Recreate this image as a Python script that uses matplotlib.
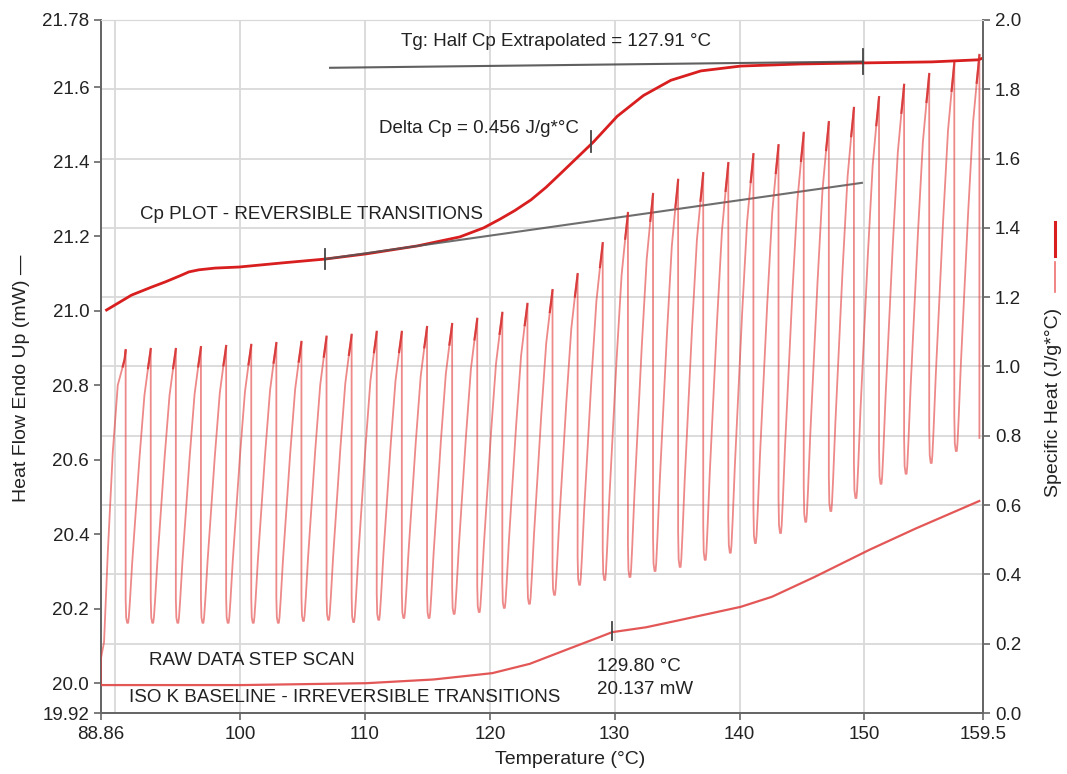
import matplotlib
matplotlib.use("Agg")
import matplotlib.pyplot as plt
from matplotlib.lines import Line2D

plt.rcParams["font.family"] = ["Liberation Sans", "DejaVu Sans"]
NARROW = ["Liberation Sans Narrow", "Liberation Sans", "DejaVu Sans"]

# ---- step scan raw data (left axis, mW) ----
step_peak_temp = [90.83, 92.84, 94.85, 96.86, 98.88, 100.89, 102.90, 104.91, 106.92,
                  108.93, 110.94, 112.95, 114.97, 116.98, 118.99, 121.00, 123.01, 125.02,
                  127.03, 129.04, 131.06, 133.07, 135.08, 137.09, 139.10, 141.11, 143.12,
                  145.14, 147.15, 149.16, 151.17, 153.18, 155.19, 157.20, 159.21]
step_peak_mw = [20.894, 20.897, 20.897, 20.902, 20.905, 20.908, 20.913, 20.916, 20.930,
                20.935, 20.943, 20.943, 20.956, 20.964, 20.978, 20.994, 21.018, 21.055,
                21.098, 21.181, 21.262, 21.313, 21.351, 21.369, 21.396, 21.420, 21.444,
                21.477, 21.506, 21.544, 21.573, 21.606, 21.635, 21.665, 21.686]
step_min_mw = [20.162, 20.162, 20.162, 20.162, 20.162, 20.162, 20.162, 20.167, 20.170,
               20.164, 20.170, 20.175, 20.175, 20.186, 20.191, 20.202, 20.213, 20.237,
               20.264, 20.277, 20.285, 20.301, 20.312, 20.331, 20.350, 20.376, 20.403,
               20.433, 20.462, 20.497, 20.535, 20.562, 20.591, 20.623, 20.658]
# start of the scan before the first step
start_temp = [88.86, 88.86, 89.1, 89.4, 89.8, 90.2, 90.6, 90.75, 90.83]
start_mw = [19.995, 20.068, 20.11, 20.35, 20.62, 20.80, 20.85, 20.87, 20.894]
# one step: drop after a peak, then the rise to the next peak
drop_dt = [0.0, 0.0, 0.04, 0.12, 0.20]
drop_h = [1.0, 0.09, 0.02, 0.0, 0.0]
rise_t = [0.0, 0.03, 0.08, 0.18, 0.33, 0.50, 0.72, 0.88, 0.96, 1.0]
rise_h = [0.0, 0.02, 0.08, 0.22, 0.40, 0.60, 0.83, 0.93, 0.975, 1.0]

# ---- iso K baseline (left axis, mW) ----
base_temp = [88.86, 100.2, 110.1, 115.5, 120.2, 123.2, 126.3, 128.8, 129.8, 132.5,
             135.3, 140.1, 142.6, 146.0, 150.4, 154.1, 159.2]
base_mw = [19.995, 19.995, 20.000, 20.010, 20.027, 20.052, 20.092, 20.124, 20.137, 20.150,
           20.170, 20.205, 20.232, 20.285, 20.358, 20.415, 20.489]

# ---- reversible Cp (right axis, J/g*C) ----
cp_temp = [89.3, 91.3, 92.9, 94.0, 95.2, 95.9, 96.7, 98.0, 99.9, 103.4, 106.8, 110.1,
           114.2, 117.6, 119.5, 120.8, 122.0, 123.3, 124.5, 125.7, 127.0, 128.3, 130.2,
           132.3, 134.5, 136.9, 140.1, 144.9, 149.8, 155.4, 159.1, 159.5]
cp_val = [1.163, 1.206, 1.229, 1.244, 1.262, 1.273, 1.279, 1.284, 1.287, 1.299, 1.310,
          1.325, 1.348, 1.374, 1.400, 1.425, 1.450, 1.481, 1.517, 1.558, 1.603, 1.648,
          1.722, 1.782, 1.826, 1.853, 1.867, 1.873, 1.876, 1.879, 1.885, 1.89]

# Tg construction lines
onset_line_temp = [106.8, 149.8]
onset_line_cp = [1.310, 1.530]
top_line_temp = [107.2, 149.9]
top_line_cp = [1.862, 1.880]
delta_tick = (128.1, 1.65)

x_ticks = [88.86, 100, 110, 120, 130, 140, 150, 159.5]
x_labels = ["88.86", "100", "110", "120", "130", "140", "150", "159.5"]
x_grid = [90, 100, 110, 120, 130, 140, 150]
left_ticks = [19.92, 20.0, 20.2, 20.4, 20.6, 20.8, 21.0, 21.2, 21.4, 21.6, 21.78]
left_labels = ["19.92", "20.0", "20.2", "20.4", "20.6", "20.8", "21.0", "21.2", "21.4",
               "21.6", "21.78"]
right_ticks = [0.0, 0.2, 0.4, 0.6, 0.8, 1.0, 1.2, 1.4, 1.6, 1.8, 2.0]

# build the raw trace from the per-step readings
raw_t = list(start_temp[:-1])
raw_y = list(start_mw[:-1])
tips = [(start_temp[-3:], start_mw[-3:])]
for k, (tp, yp) in enumerate(zip(step_peak_temp, step_peak_mw)):
    ymin = step_min_mw[k]
    if k > 0:
        t0 = step_peak_temp[k - 1] + drop_dt[-1]
        y0 = step_min_mw[k - 1]
        seg_t = [t0 + f * (tp - t0) for f in rise_t]
        seg_y = [y0 + f * (yp - y0) for f in rise_h]
        raw_t += seg_t
        raw_y += seg_y
        tips.append((seg_t[-3:], seg_y[-3:]))
    else:
        raw_t.append(tp)
        raw_y.append(yp)
    if k == len(step_peak_temp) - 1:
        raw_t.append(tp)
        raw_y.append(ymin)
    else:
        raw_t += [tp + d for d in drop_dt]
        raw_y += [ymin + f * (yp - ymin) for f in drop_h]

fig = plt.figure(figsize=(10.67, 7.74), dpi=100)
ax = fig.add_axes([0.0947, 0.0788, 0.8266, 0.8954])
ax2 = ax.twinx()
ax2.set_zorder(ax.get_zorder() - 1)
ax.patch.set_visible(False)
ax2.patch.set_facecolor("white")

ax.set_xlim(88.86, 159.5)
ax.set_ylim(19.92, 21.78)
ax2.set_ylim(0, 2.0)

grid_c = "#d9d9d9"
for v in right_ticks[1:]:
    ax2.axhline(v, color=grid_c, lw=1.3, zorder=0)
for g in x_grid:
    ax2.axvline(g, color=grid_c, lw=1.3, zorder=0)

ax.plot(raw_t, raw_y, color="#e23a3a", lw=1.3, alpha=0.6, zorder=3)
for tt, ty in tips:
    ax.plot(tt, ty, color="#d42a2a", lw=1.6, alpha=0.8, zorder=3)
ax.plot(base_temp, base_mw, color="#e04545", lw=1.6, alpha=0.9, zorder=3)

ax2.plot(cp_temp, cp_val, color="#d81e1e", lw=2.0, zorder=3)
ax2.plot(onset_line_temp, onset_line_cp, color="#555555", lw=1.5, alpha=0.85, zorder=4)
ax2.plot(top_line_temp, top_line_cp, color="#444444", lw=1.5, alpha=0.85, zorder=4)
ax2.plot([onset_line_temp[0]] * 2, [onset_line_cp[0] - 0.03, onset_line_cp[0] + 0.03],
         color="#444444", lw=1.3, zorder=5)
ax2.plot([top_line_temp[1]] * 2, [top_line_cp[1] - 0.035, top_line_cp[1] + 0.035],
         color="#444444", lw=1.3, zorder=5)
ax2.plot([delta_tick[0]] * 2, [delta_tick[1] - 0.03, delta_tick[1] + 0.03],
         color="#444444", lw=1.3, zorder=5)
ax.plot([129.8, 129.8], [20.115, 20.165], color="#444444", lw=1.3, zorder=5)

# ticks and spines
ax.set_xticks(x_ticks)
ax.set_xticklabels(x_labels)
ax.set_yticks(left_ticks)
ax.set_yticklabels(left_labels)
ax2.set_yticks(right_ticks)
ax2.set_yticklabels([f"{v:.1f}" for v in right_ticks])
for a in (ax, ax2):
    a.tick_params(labelsize=13.5, colors="#666666", labelcolor="#222222", length=5,
                  width=1.2)
    for side in ("left", "right", "bottom"):
        a.spines[side].set_color("#666666")
        a.spines[side].set_linewidth(1.3)
    a.spines["top"].set_color(grid_c)
ax.tick_params(axis="x", pad=4)

fig.text(570 / 1067, 1 - 760 / 774, "Temperature (°C)", ha="center", va="center",
         fontsize=14, family=NARROW, color="#222222")
fig.text(22 / 1067, 1 - 378 / 774, "Heat Flow Endo Up (mW) —", rotation=90,
         ha="center", va="center", fontsize=14, family=NARROW, color="#222222")
fig.text(1053 / 1067, 1 - 402 / 774, "Specific Heat (J/g*°C)", rotation=90,
         ha="center", va="center", fontsize=14, family=NARROW, color="#222222")
fig.add_artist(Line2D([1055 / 1067] * 2, [1 - 292 / 774, 1 - 262 / 774],
                      color="#f07070", lw=1.2))
fig.add_artist(Line2D([1055 / 1067] * 2, [1 - 256 / 774, 1 - 222 / 774],
                      color="#d81e1e", lw=2.2))

txt = dict(fontsize=13.5, family=NARROW, color="#222222", zorder=6)
ax.text(125.3, 21.721, "Tg: Half Cp Extrapolated = 127.91 °C", ha="center", va="center", **txt)
ax.text(119.1, 21.49, "Delta Cp = 0.456 J/g*°C", ha="center", va="center", **txt)
ax.text(105.7, 21.257, "Cp PLOT - REVERSIBLE TRANSITIONS", ha="center", va="center", **txt)
ax.text(100.9, 20.062, "RAW DATA STEP SCAN", ha="center", va="center", **txt)
ax.text(108.4, 19.962, "ISO K BASELINE - IRREVERSIBLE TRANSITIONS", ha="center",
        va="center", **txt)
ax.text(128.6, 20.044, "129.80 °C", ha="left", va="center", **txt)
ax.text(128.6, 19.982, "20.137 mW", ha="left", va="center", **txt)

fig.savefig("out.png", dpi=100)
